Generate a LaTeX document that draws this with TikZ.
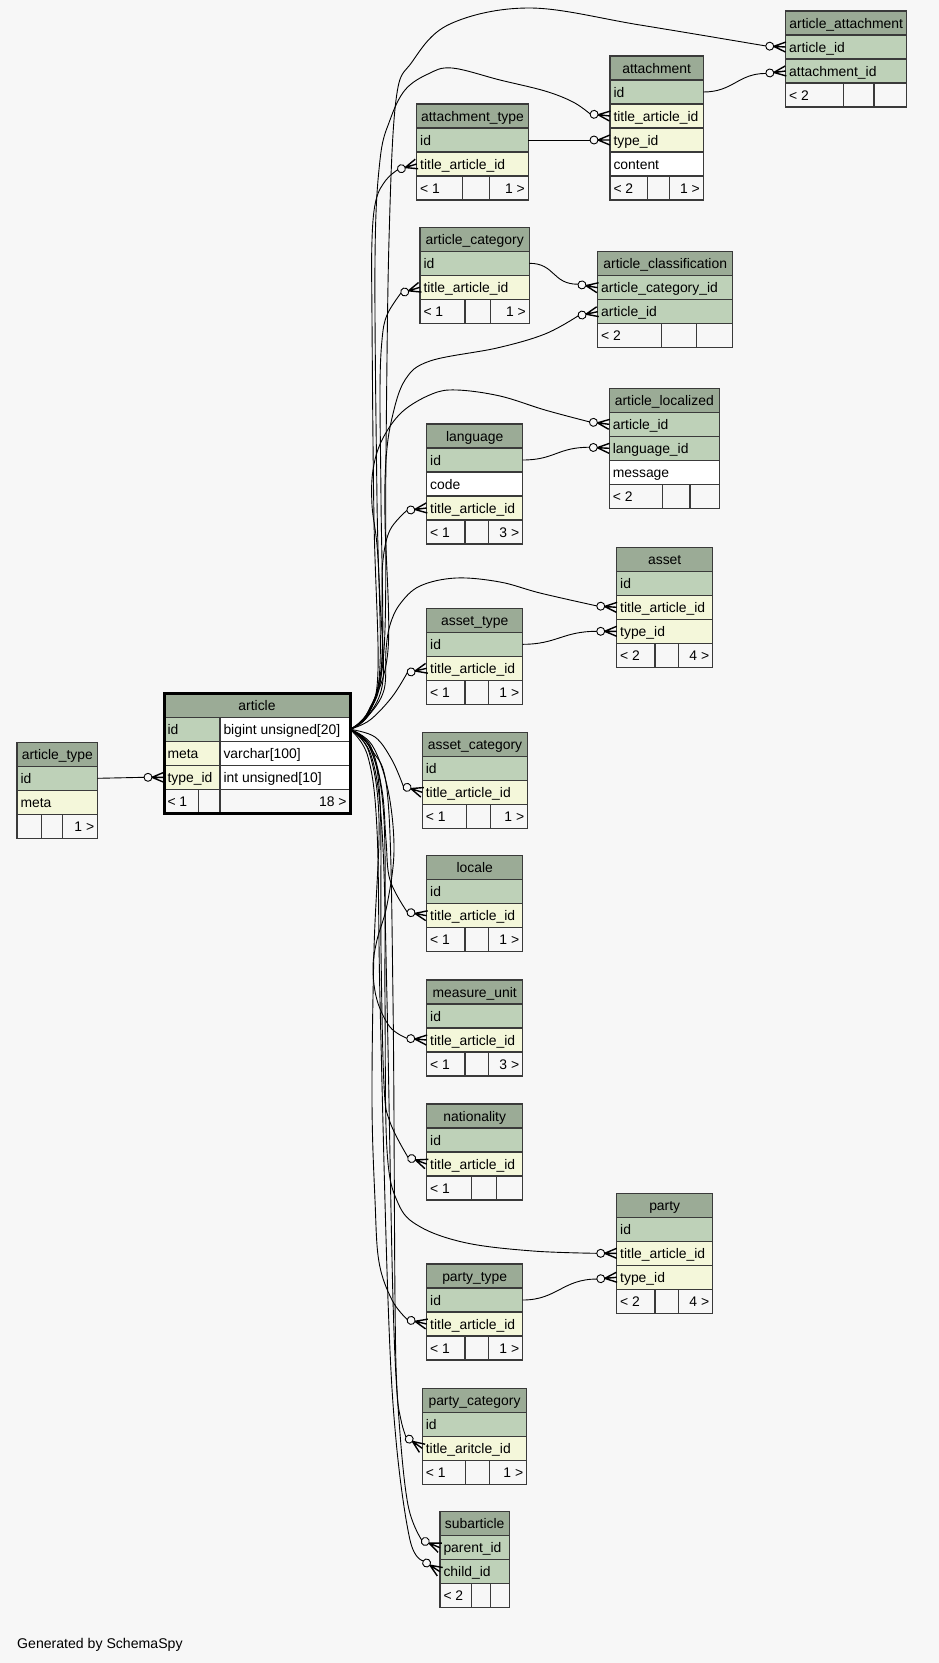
\documentclass[tikz,border=0pt]{standalone}
\usepackage{fontspec}
\setmainfont{Liberation Sans}
\definecolor{bgc}{HTML}{F7F7F7}
\definecolor{hdc}{HTML}{9BAB96}
\definecolor{pkc}{HTML}{BED1B8}
\definecolor{ixc}{HTML}{F4F7DA}
\definecolor{bdc}{HTML}{3A3A3A}
\newcommand\fs{\fontsize{13.9pt}{16pt}\selectfont}
\newcommand\tabstart[4]{\gdef\tn{#1}\xdef\tx{#2}\xdef\ty{#3}\xdef\tw{#4}}
\newcommand\tadv{\pgfmathsetmacro\tmpy{\ty+24}\xdef\ty{\tmpy}}
\newcommand\thead[1]{\node[cell,fill=hdc,minimum width=\tw pt] (\tn) at (\tx,\ty) {\makebox[\dimexpr\tw pt-7pt\relax][c]{#1}};\tadv}
\newcommand\trow[3]{\node[cell,fill=#3,minimum width=\tw pt] (\tn-#1) at (\tx,\ty) {\makebox[\dimexpr\tw pt-7pt\relax][l]{#2}};\tadv}
\newcommand\trowtwo[4]{\node[cell,fill=#3,minimum width=56pt] (\tn-#1) at (\tx,\ty) {\makebox[49pt][l]{#2}};
 \node[cell,fill=white,minimum width=130pt] (\tn-#1-t) at (\tx+56,\ty) {\makebox[123pt][l]{#4}};\tadv}
\newcommand\tfoot[5]{%
 \pgfmathsetmacro\wa{#1-\tx}\pgfmathsetmacro\wb{#2-#1}\pgfmathsetmacro\wc{\tx+\tw-#2}%
 \node[cell,fill=bgc,minimum width=\wa pt] (\tn-f1) at (\tx,\ty) {\makebox[\dimexpr\wa pt-7pt\relax][l]{#3}};
 \node[cell,fill=bgc,minimum width=\wb pt] (\tn-f2) at (#1,\ty) {\makebox[\dimexpr\wb pt-7pt\relax][c]{#4}};
 \node[cell,fill=bgc,minimum width=\wc pt] (\tn-f3) at (#2,\ty) {\makebox[\dimexpr\wc pt-7pt\relax][r]{#5}};}
\newcommand\fkp[2]{\begin{scope}[shift={(#1.west)},rotate=#2]\coordinate (#1-p) at (-20,0);\end{scope}}
\newcommand\fkm[2]{\begin{scope}[shift={(#1.west)},rotate=#2]
  \draw[crowline] (0,-5) -- (-12,0) -- (0,5) (-12,0) -- (0,0);
  \draw[rel,fill=bgc] (-16,0) circle[radius=4pt];\end{scope}}
\tikzset{
  cell/.style={draw=bdc,line width=1.1pt,anchor=north west,inner xsep=3.5pt,inner ysep=0pt,
    minimum height=24pt,text height=13pt,text depth=3pt,outer sep=0pt,font=\fs},
  rel/.style={draw=black,line width=0.9pt},
  crowline/.style={draw=black,line width=1.4pt},
}
\begin{document}
\begin{tikzpicture}[x=1pt,y=-1pt]
\fill[bgc] (0,0) rectangle (939,1663);
\useasboundingbox (0,0) rectangle (939,1663);

% ---------------- tables
\tabstart{artype}{17}{742.3}{80.7}
\thead{article\_type}
\trow{id}{id}{pkc}
\trow{meta}{meta}{ixc}
\tfoot{41.7}{62.7}{}{}{1 >}

\tabstart{art}{164}{693.3}{186}
\thead{article}
\trowtwo{id}{id}{pkc}{bigint unsigned[20]}
\trowtwo{meta}{meta}{ixc}{varchar[100]}
\trowtwo{type}{type\_id}{ixc}{int unsigned[10]}
\tfoot{198.7}{220}{< 1}{}{18 >}

\tabstart{aatt}{785.7}{11}{121}
\thead{article\_attachment}
\trow{aid}{article\_id}{pkc}
\trow{atid}{attachment\_id}{pkc}
\tfoot{843.3}{874}{< 2}{}{}

\tabstart{att}{610}{56}{93.3}
\thead{attachment}
\trow{id}{id}{pkc}
\trow{title}{title\_article\_id}{ixc}
\trow{type}{type\_id}{ixc}
\trow{content}{content}{white}
\tfoot{647.7}{669.3}{< 2}{}{1 >}

\tabstart{atttype}{416.7}{104}{111.6}
\thead{attachment\_type}
\trow{id}{id}{pkc}
\trow{title}{title\_article\_id}{ixc}
\tfoot{462.7}{489.3}{< 1}{}{1 >}

\tabstart{acat}{420}{227.3}{109.3}
\thead{article\_category}
\trow{id}{id}{pkc}
\trow{title}{title\_article\_id}{ixc}
\tfoot{465}{490.7}{< 1}{}{1 >}

\tabstart{aclass}{597.7}{251.7}{135}
\thead{article\_classification}
\trow{acid}{article\_category\_id}{pkc}
\trow{aid}{article\_id}{pkc}
\tfoot{661.7}{696.7}{< 2}{}{}

\tabstart{aloc}{609.3}{388.3}{110}
\thead{article\_localized}
\trow{aid}{article\_id}{pkc}
\trow{lid}{language\_id}{pkc}
\trow{msg}{message}{white}
\tfoot{662.3}{690}{< 2}{}{}

\tabstart{lang}{426.7}{424}{96}
\thead{language}
\trow{id}{id}{pkc}
\trow{code}{code}{white}
\trow{title}{title\_article\_id}{ixc}
\tfoot{465}{488.3}{< 1}{}{3 >}

\tabstart{asset}{616.7}{547.3}{96}
\thead{asset}
\trow{id}{id}{pkc}
\trow{title}{title\_article\_id}{ixc}
\trow{type}{type\_id}{ixc}
\tfoot{655}{678.3}{< 2}{}{4 >}

\tabstart{assettype}{426.7}{608.3}{96}
\thead{asset\_type}
\trow{id}{id}{pkc}
\trow{title}{title\_article\_id}{ixc}
\tfoot{465}{488.3}{< 1}{}{1 >}

\tabstart{assetcat}{422.3}{732.3}{105.4}
\thead{asset\_category}
\trow{id}{id}{pkc}
\trow{title}{title\_article\_id}{ixc}
\tfoot{466.7}{490.7}{< 1}{}{1 >}

\tabstart{locale}{426.7}{855.7}{96}
\thead{locale}
\trow{id}{id}{pkc}
\trow{title}{title\_article\_id}{ixc}
\tfoot{465}{488.3}{< 1}{}{1 >}

\tabstart{munit}{426.7}{980}{96}
\thead{measure\_unit}
\trow{id}{id}{pkc}
\trow{title}{title\_article\_id}{ixc}
\tfoot{465}{488.3}{< 1}{}{3 >}

\tabstart{nat}{426.7}{1104}{96}
\thead{nationality}
\trow{id}{id}{pkc}
\trow{title}{title\_article\_id}{ixc}
\tfoot{471.7}{496.7}{< 1}{}{}

\tabstart{party}{616.7}{1193.3}{96}
\thead{party}
\trow{id}{id}{pkc}
\trow{title}{title\_article\_id}{ixc}
\trow{type}{type\_id}{ixc}
\tfoot{655}{678.3}{< 2}{}{4 >}

\tabstart{ptype}{426.7}{1264}{96}
\thead{party\_type}
\trow{id}{id}{pkc}
\trow{title}{title\_article\_id}{ixc}
\tfoot{465}{488.3}{< 1}{}{1 >}

\tabstart{pcat}{422.3}{1388.3}{104.4}
\thead{party\_category}
\trow{id}{id}{pkc}
\trow{title}{title\_aritcle\_id}{ixc}
\tfoot{465.7}{489.3}{< 1}{}{1 >}

\tabstart{sub}{440}{1511.7}{69.3}
\thead{subarticle}
\trow{parent}{parent\_id}{pkc}
\trow{child}{child\_id}{pkc}
\tfoot{471.7}{490.7}{< 2}{}{}

\draw[line width=3pt,black] (art.north west) rectangle (art-f3.south east);

% ---------------- connector end points
\fkp{art-type}{0}
\fkp{aatt-aid}{-3}
\fkp{aatt-atid}{7}
\fkp{att-title}{-6}
\fkp{att-type}{0}
\fkp{atttype-title}{17}
\fkp{acat-title}{17}
\fkp{aclass-acid}{-10}
\fkp{aclass-aid}{12}
\fkp{aloc-aid}{-7}
\fkp{aloc-lid}{-3}
\fkp{lang-title}{7}
\fkp{asset-title}{-4}
\fkp{asset-type}{0}
\fkp{assettype-title}{13}
\fkp{assetcat-title}{-18}
\fkp{locale-title}{-11}
\fkp{munit-title}{-5}
\fkp{nat-title}{-20}
\fkp{party-title}{0}
\fkp{party-type}{5}
\fkp{ptype-title}{-13}
\fkp{pcat-title}{-35}
\fkp{sub-parent}{-23}
\fkp{sub-child}{-33}

% ---------------- short connectors
\draw[rel] (artype-id.east) -- (art-type-p);
\draw[rel] (atttype-id.east) -- (att-type-p);
\draw[rel] (att-id.east) .. controls +(30,0) and +(-28,0) .. (aatt-atid-p);
\draw[rel] (acat-id.east) .. controls +(26,0) and +(-26,0) .. (aclass-acid-p);
\draw[rel] (lang-id.east) .. controls +(32,0) and +(-32,0) .. (aloc-lid-p);
\draw[rel] (assettype-id.east) .. controls +(34,0) and +(-34,0) .. (asset-type-p);
\draw[rel] (ptype-id.east) .. controls +(34,0) and +(-34,0) .. (party-type-p);

% ---------------- connectors from article.id
\draw[rel] plot[smooth,tension=0.6] coordinates {(art-id-t.east) (368,712) (384,650) (386,450) (389,240) (396,100) (412,62) (450,24) (530,8) (640,25) (aatt-aid-p)};
\draw[rel] plot[smooth,tension=0.6] coordinates {(art-id-t.east) (368,714) (380,665) (377,500) (375,260) (380,160) (390,120) (405,90) (428,74) (452,68) (500,80) (545,91) (573,102) (att-title-p)};
\draw[rel] plot[smooth,tension=0.6] coordinates {(art-id-t.east) (368,715) (378,670) (374,520) (372,320) (372,240) (376,200) (386,180) (atttype-title-p)};
\draw[rel] plot[smooth,tension=0.6] coordinates {(art-id-t.east) (368,713) (382,665) (381,500) (380,390) (382,340) (387,315) (acat-title-p)};
\draw[rel] plot[smooth,tension=0.6] coordinates {(art-id-t.east) (369,710) (388,650) (385,520) (386,460) (392,418) (405,380) (430,361) (497,348) (545,334) (aclass-aid-p)};
\draw[rel] plot[smooth,tension=0.6] coordinates {(art-id-t.east) (368,716) (383,680) (380,600) (377,545) (372,505) (373,470) (382,440) (402,412) (432,394) (457,390) (500,396) (545,410) (aloc-aid-p)};
\draw[rel] plot[smooth,tension=0.6] coordinates {(art-id-t.east) (368,714) (381,670) (382,600) (383,560) (390,530) (lang-title-p)};
\draw[rel] plot[smooth,tension=0.6] coordinates {(art-id-t.east) (368,716) (384,690) (386,650) (390,625) (400,604) (420,586) (456,578) (500,582) (540,593) (asset-title-p)};
\draw[rel] plot[smooth,tension=0.6] coordinates {(art-id-t.east) (370,720) (392,697) (assettype-title-p)};
\draw[rel] plot[smooth,tension=0.6] coordinates {(art-id-t.east) (375,737) (392,760) (assetcat-title-p)};
\draw[rel] plot[smooth,tension=0.6] coordinates {(art-id-t.east) (370,745) (382,790) (386,840) (390,880) (locale-title-p)};
\draw[rel] plot[smooth,tension=0.6] coordinates {(art-id-t.east) (372,745) (388,790) (394,850) (387,905) (377,940) (373,968) (377,1000) (390,1027) (munit-title-p)};
\draw[rel] plot[smooth,tension=0.6] coordinates {(art-id-t.east) (370,748) (380,800) (381,950) (384,1085) (390,1122) (nat-title-p)};
\draw[rel] plot[smooth,tension=0.6] coordinates {(art-id-t.east) (371,750) (384,820) (385,1000) (387,1150) (398,1203) (420,1226.7) (466.7,1243) (533,1251) (party-title-p)};
\draw[rel] plot[smooth,tension=0.6] coordinates {(art-id-t.east) (369,752) (379,820) (374,950) (372,1100) (375,1200) (379,1262) (392,1300) (ptype-title-p)};
\draw[rel] plot[smooth,tension=0.6] coordinates {(art-id-t.east) (372,750) (388,800) (393,1000) (395,1300) (397,1390) (401,1420) (pcat-title-p)};
\draw[rel] plot[smooth,tension=0.6] coordinates {(art-id-t.east) (371,755) (382,830) (387,1000) (393,1300) (399,1420) (408,1505) (sub-parent-p)};
\draw[rel] plot[smooth,tension=0.6] coordinates {(art-id-t.east) (368,757) (377,830) (380,1000) (388,1300) (396,1440) (410,1540) (sub-child-p)};

% ---------------- markers
\fkm{art-type}{0}
\fkm{aatt-aid}{-3}
\fkm{aatt-atid}{7}
\fkm{att-title}{-6}
\fkm{att-type}{0}
\fkm{atttype-title}{17}
\fkm{acat-title}{17}
\fkm{aclass-acid}{-10}
\fkm{aclass-aid}{12}
\fkm{aloc-aid}{-7}
\fkm{aloc-lid}{-3}
\fkm{lang-title}{7}
\fkm{asset-title}{-4}
\fkm{asset-type}{0}
\fkm{assettype-title}{13}
\fkm{assetcat-title}{-18}
\fkm{locale-title}{-11}
\fkm{munit-title}{-5}
\fkm{nat-title}{-20}
\fkm{party-title}{0}
\fkm{party-type}{5}
\fkm{ptype-title}{-13}
\fkm{pcat-title}{-35}
\fkm{sub-parent}{-23}
\fkm{sub-child}{-33}

\node[anchor=base west,inner sep=0pt,font=\fontsize{14.1pt}{16pt}\selectfont] (gen) at (17,1648) {Generated by SchemaSpy};
\end{tikzpicture}
\end{document}
